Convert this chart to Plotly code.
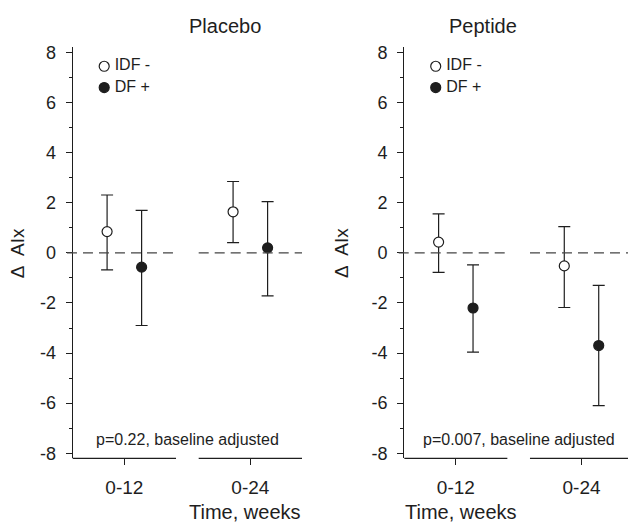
import plotly.graph_objects as go

# ---- data ----
categories = ["0-12", "0-24"]
cat_pos = [1, 2]

placebo_idf_mean = [0.85, 1.64]
placebo_idf_upper = [2.31, 2.85]
placebo_idf_lower = [-0.68, 0.41]
placebo_df_mean = [-0.57, 0.20]
placebo_df_upper = [1.70, 2.05]
placebo_df_lower = [-2.90, -1.72]

peptide_idf_mean = [0.43, -0.52]
peptide_idf_upper = [1.56, 1.05]
peptide_idf_lower = [-0.78, -2.18]
peptide_df_mean = [-2.20, -3.70]
peptide_df_upper = [-0.48, -1.30]
peptide_df_lower = [-3.96, -6.10]

panel_titles = ["Placebo", "Peptide"]
p_texts = ["p=0.22, baseline adjusted", "p=0.007, baseline adjusted"]
legend_labels = ["IDF -", "DF +"]
y_ticks = [-8, -6, -4, -2, 0, 2, 4, 6, 8]
y_ticktext = ["-8", "-6", "-4", "-2", "0", "2", "4", "6", "8"]

# ---- styling ----
INK = "#1e1e1e"
FONT = "Arial, Liberation Sans, sans-serif"
W, H = 628, 530
OFF = 0.137
YR = [-8.2, 8.2]
XR_L = [0.59, 2.41]
XR_R = [0.59, 2.37]
ydom = [1 - 462 / H, 1 - 43.3 / H]
xdom_l = [72.7 / W, 302 / W]
xdom_r = [404.3 / W, 1.0]

fig = go.Figure()


def add_series(mean, upper, lower, offset, filled, xa, ya):
    xs = [c + offset for c in cat_pos]
    plus = [u - m for u, m in zip(upper, mean)]
    minus = [m - l for m, l in zip(mean, lower)]
    fig.add_trace(go.Scatter(
        x=xs, y=mean, mode="markers", xaxis=xa, yaxis=ya, showlegend=False,
        marker=dict(size=10, color=INK if filled else "white",
                    line=dict(color=INK, width=1.2)),
        error_y=dict(type="data", array=plus, arrayminus=minus, visible=True,
                     color=INK, thickness=1.2, width=6),
        hoverinfo="skip"))


add_series(placebo_idf_mean, placebo_idf_upper, placebo_idf_lower, -OFF, False, "x", "y")
add_series(placebo_df_mean, placebo_df_upper, placebo_df_lower, OFF, True, "x", "y")
add_series(peptide_idf_mean, peptide_idf_upper, peptide_idf_lower, -OFF, False, "x2", "y2")
add_series(peptide_df_mean, peptide_df_upper, peptide_df_lower, OFF, True, "x2", "y2")

# in-panel legends
for xa, ya in [("x", "y"), ("x2", "y2")]:
    for lab, yy, filled in [(legend_labels[0], 7.45, False), (legend_labels[1], 6.6, True)]:
        fig.add_trace(go.Scatter(
            x=[0.84], y=[yy], mode="markers+text", text=["\u2009" + lab],
            textposition="middle right", xaxis=xa, yaxis=ya, showlegend=False,
            textfont=dict(family=FONT, size=16, color=INK),
            marker=dict(size=10, color=INK if filled else "white",
                        line=dict(color=INK, width=1.2)),
            hoverinfo="skip"))

shapes = []
annotations = []
for i, (xa, ya, xr) in enumerate([("x", "y", XR_L), ("x2", "y2", XR_R)]):
    dom = "x domain" if xa == "x" else "x2 domain"
    ydm = "y domain" if ya == "y" else "y2 domain"
    span = xr[1] - xr[0]
    for a, b in [(0.59, 1.41), (1.59, 2.41)]:
        shapes.append(dict(type="line", xref=dom, yref=ydm,
                           x0=(a - xr[0]) / span, x1=(b - xr[0]) / span, y0=0, y1=0,
                           line=dict(color=INK, width=1.2)))
        shapes.append(dict(type="line", xref=dom, yref=ya,
                           x0=(a - xr[0]) / span - (0.025 if a < 1 else 0),
                           x1=(b - xr[0]) / span, y0=0, y1=0,
                           line=dict(color="#444444", width=1.2, dash="10px,6px")))
    annotations.append(dict(xref=xa, yref=ya, x=1.5, y=-7.46, text=p_texts[i],
                            showarrow=False, font=dict(family=FONT, size=16, color=INK)))

xdoms = [xdom_l, xdom_r]
for i in range(2):
    cx = (xdoms[i][0] * W + 229.3 / 2) / W
    annotations.append(dict(xref="paper", yref="paper", x=cx, y=1 - 21 / H,
                            text=panel_titles[i], showarrow=False, yanchor="middle",
                            font=dict(family=FONT, size=20, color=INK)))
    annotations.append(dict(xref="paper", yref="paper", x=cx, y=1 - 516.7 / H,
                            text="Time, weeks", showarrow=False, yanchor="middle",
                            font=dict(family=FONT, size=20, color=INK)))
annotations.append(dict(xref="paper", yref="paper", x=17 / W, y=1 - 253 / H,
                        text="Δ  AIx", textangle=-90, showarrow=False,
                        xanchor="center", yanchor="middle",
                        font=dict(family=FONT, size=19, color=INK)))
annotations.append(dict(xref="paper", yref="paper", x=341.7 / W, y=1 - 253 / H,
                        text="Δ  AIx", textangle=-90, showarrow=False,
                        xanchor="center", yanchor="middle",
                        font=dict(family=FONT, size=19, color=INK)))

yaxis_common = dict(range=YR, domain=ydom, tickvals=y_ticks, ticktext=y_ticktext,
                    ticks="outside",
                    ticklen=6, tickwidth=1.2, tickcolor=INK, showline=True,
                    linecolor=INK, linewidth=1.2, showgrid=False, zeroline=False,
                    ticklabelstandoff=6,
                    tickfont=dict(family=FONT, size=18, color=INK),
                    minor=dict(tickvals=[-7, -5, -3, -1, 1, 3, 5, 7], ticks="outside",
                               ticklen=3, tickwidth=1.2, tickcolor=INK))
xaxis_common = dict(tickvals=cat_pos, ticktext=categories, ticks="outside",
                    ticklen=6, tickwidth=1.2, tickcolor=INK, showline=False,
                    showgrid=False, zeroline=False, ticklabelstandoff=6,
                    tickfont=dict(family=FONT, size=19, color=INK))

fig.update_layout(
    width=W, height=H, margin=dict(l=0, r=0, t=0, b=0),
    paper_bgcolor="white", plot_bgcolor="white", showlegend=False,
    hovermode=False,
    xaxis=dict(domain=xdom_l, range=XR_L, anchor="y", **xaxis_common),
    yaxis=dict(anchor="x", **yaxis_common),
    xaxis2=dict(domain=xdom_r, range=XR_R, anchor="y2", **xaxis_common),
    yaxis2=dict(anchor="x2", **yaxis_common),
    shapes=shapes, annotations=annotations,
)

fig.write_html("out.html", config={"displayModeBar": False},
               post_script="document.body.style.margin='0';document.body.style.overflow='hidden';")
